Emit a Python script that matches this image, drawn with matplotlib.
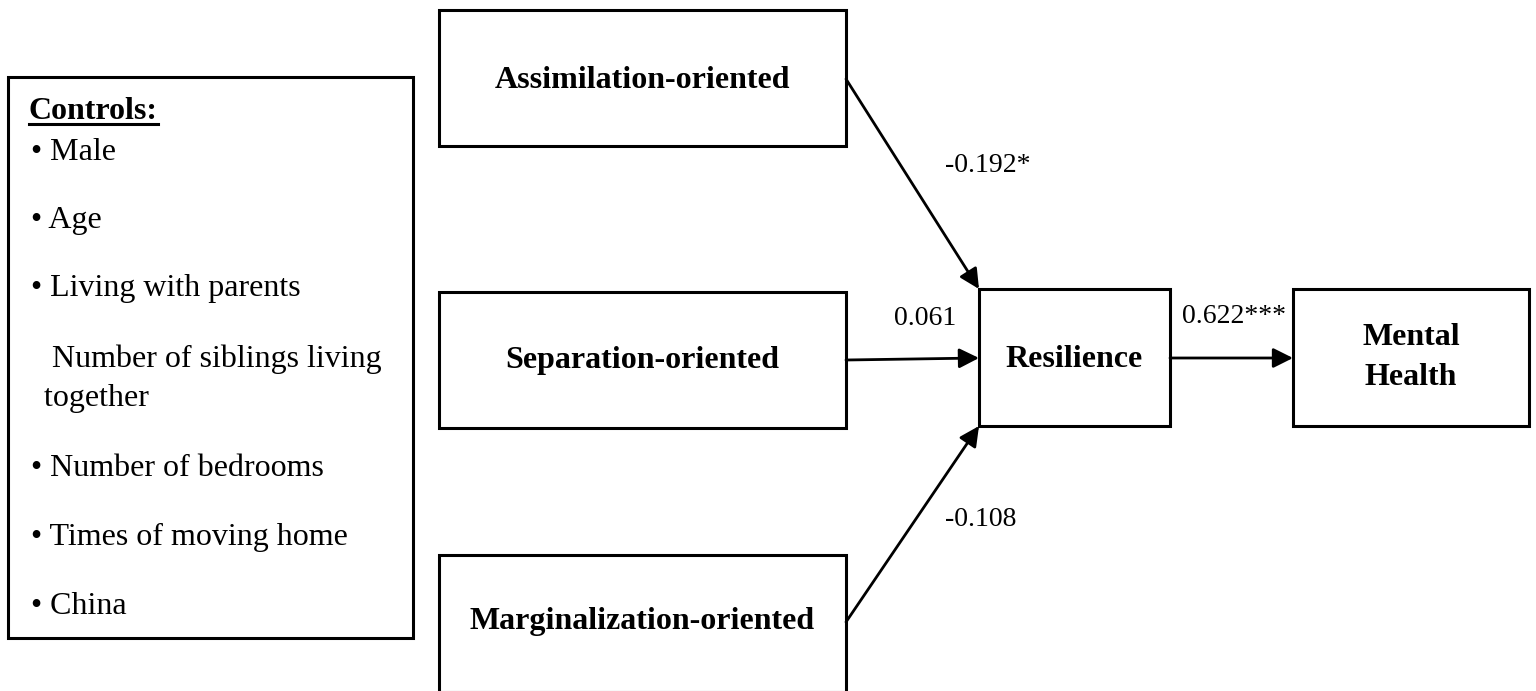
"""Path diagram: acculturation orientation -> resilience -> mental health."""

import matplotlib.pyplot as plt
from matplotlib.patches import Rectangle

# Data
predictors = ["Assimilation-oriented", "Separation-oriented", "Marginalization-oriented"]
predictor_coefs = ["-0.192*", "0.061", "-0.108"]
mediator = "Resilience"
outcome = "Mental\nHealth"
mediator_coef = "0.622***"
controls_title = "Controls:"
controls = [
    "\u2022 Male",
    "\u2022 Age",
    "\u2022 Living with parents",
    "  Number of siblings living\n together",
    "\u2022 Number of bedrooms",
    "\u2022 Times of moving home",
    "\u2022 China",
]

# Layout (pixel space, y down)
W, H = 1536, 691
pred_boxes = [(439, 10, 846, 146), (439, 292, 846, 428), (439, 555, 846, 692)]
pred_text_y = [80, 360, 622]
med_box = (979, 289, 1170, 426)
out_box = (1293, 289, 1529, 426)
ctrl_box = (8, 77, 413, 638)
arrow_starts = [(846, 79), (846, 360), (846, 622)]
arrow_ends = [(979, 289), (979, 358), (979, 426)]
coef_pos = [(945, 165), (894, 318), (945, 520)]
ctrl_y = [152, 220, 288, 379, 468, 537, 607]
ctrl_x = [31, 31, 31, 36, 31, 31, 31]

FONT = "Liberation Serif"
FS = 23
FS_COEF = 20

fig = plt.figure(figsize=(W / 100, H / 100), dpi=100)
ax = fig.add_axes([0, 0, 1, 1])
ax.set_xlim(0, W)
ax.set_ylim(H, 0)
ax.axis("off")


def box(b, lw=2.2):
    x0, y0, x1, y1 = b
    ax.add_patch(Rectangle((x0, y0), x1 - x0, y1 - y0, fill=False,
                           edgecolor="black", lw=lw, clip_on=False))


def arrow(p0, p1):
    ax.annotate("", xy=p1, xytext=p0,
                arrowprops=dict(arrowstyle="-|>", color="black", lw=2,
                                mutation_scale=30, shrinkA=0, shrinkB=0))


# Predictor boxes and paths
for b, name, ty, p0, p1, c, cp in zip(pred_boxes, predictors, pred_text_y,
                                      arrow_starts, arrow_ends,
                                      predictor_coefs, coef_pos):
    box(b)
    ax.text((b[0] + b[2]) / 2, ty, name, ha="center", va="center",
            fontsize=FS, fontweight="bold", family=FONT)
    arrow(p0, p1)
    ax.text(cp[0], cp[1], c, ha="left", va="center", fontsize=FS_COEF,
            family=FONT)

# Mediator and outcome
box(med_box)
ax.text((med_box[0] + med_box[2]) / 2, 359, mediator, ha="center", va="center",
        fontsize=FS, fontweight="bold", family=FONT)
box(out_box)
ax.text((out_box[0] + out_box[2]) / 2, 357, outcome, ha="center", va="center",
        fontsize=FS, fontweight="bold", family=FONT, linespacing=1.5)
arrow((med_box[2], 358), (out_box[0], 358))
ax.text(1182, 316, mediator_coef, ha="left", va="center", fontsize=FS_COEF,
        family=FONT)

# Controls box
box(ctrl_box)
ax.text(29, 111, controls_title, ha="left", va="center", fontsize=FS,
        fontweight="bold", family=FONT)
ax.plot([29, 158], [124, 124], color="black", lw=2.2)
for x, y, s in zip(ctrl_x, ctrl_y, controls):
    ax.text(x, y, s, ha="left", va="center", fontsize=FS, family=FONT,
            linespacing=1.45)

fig.savefig("out.png", dpi=100)
